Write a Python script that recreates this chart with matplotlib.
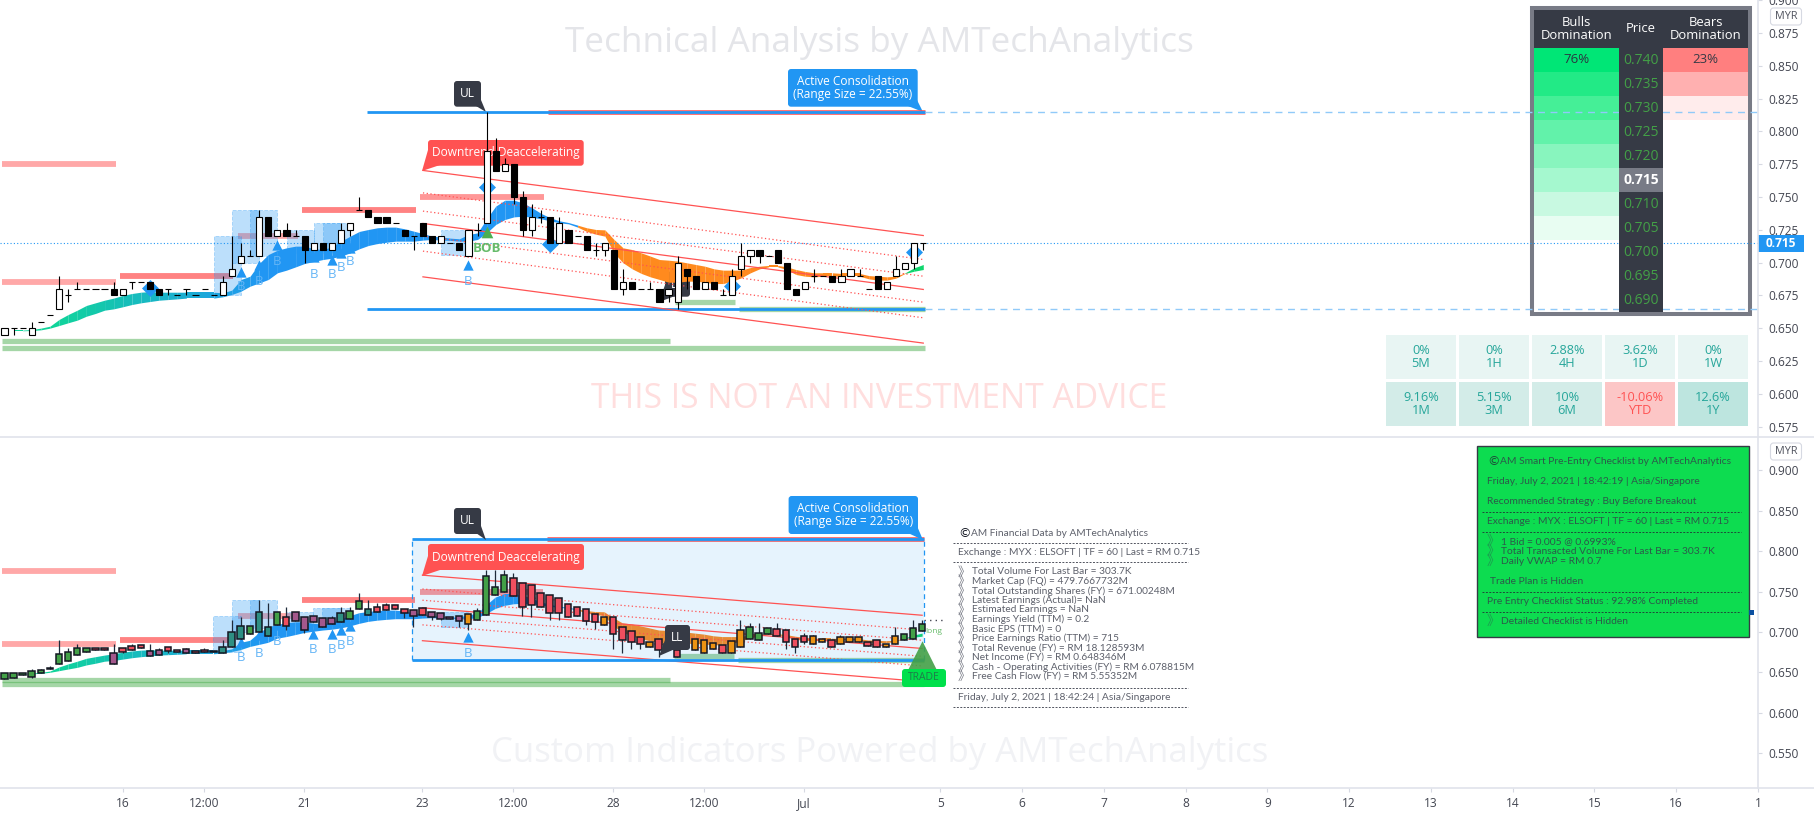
import matplotlib
matplotlib.use('Agg')
import matplotlib.pyplot as plt
from matplotlib.colors import to_rgb
from matplotlib.patches import FancyBboxPatch, Polygon, Rectangle

plt.rcParams['font.family'] = ['Open Sans', 'DejaVu Sans']

# top pane candles, one per bar
bar_open = [.645,.65,.65,.645,.655,.66,.665,.675,.68,.68,
            .68,.68,.68,.675,.685,.685,.685,.68,.68,.675,
            .68,.675,.68,.675,.675,.69,.70,.705,.705,.735,
            .72,.725,.72,.72,.71,.715,.71,.715,.725,.74,
            .74,.735,.735,.73,.725,.72,.73,.72,.715,.715,
            .715,.705,.725,.73,.785,.77,.775,.75,.725,.735,
            .735,.715,.725,.72,.72,.71,.71,.71,.68,.685,
            .68,.68,.68,.675,.67,.695,.69,.68,.685,.675,
            .675,.695,.705,.71,.705,.71,.70,.68,.68,.69,
            .69,.69,.685,.69,.69,.68,.69,.68,.69,.695,
            .70,.715]
bar_close = [.65,.65,.65,.65,.655,.66,.68,.675,.68,.68,
             .68,.68,.675,.68,.685,.685,.68,.675,.68,.675,
             .68,.675,.68,.675,.685,.695,.705,.705,.735,.72,
             .725,.72,.72,.71,.715,.71,.715,.725,.73,.74,
             .735,.73,.73,.73,.72,.72,.72,.715,.72,.715,
             .71,.725,.725,.785,.77,.775,.75,.725,.735,.735,
             .715,.73,.715,.72,.71,.71,.715,.68,.685,.68,
             .68,.68,.67,.68,.70,.69,.68,.685,.68,.675,
             .69,.705,.71,.705,.705,.70,.68,.675,.685,.69,
             .69,.685,.69,.695,.69,.68,.68,.685,.695,.70,
             .715,.715]
bar_high = [.65,.65,.65,.655,.655,.66,.69,.68,.685,.68,
            .68,.68,.685,.68,.685,.685,.685,.68,.68,.675,
            .68,.675,.68,.675,.69,.72,.715,.71,.74,.735,
            .725,.73,.725,.72,.715,.715,.715,.73,.73,.75,
            .74,.735,.735,.73,.725,.72,.73,.72,.72,.715,
            .715,.725,.73,.815,.795,.78,.775,.755,.745,.74,
            .735,.735,.725,.72,.72,.715,.715,.71,.695,.685,
            .68,.685,.68,.68,.705,.695,.69,.685,.685,.68,
            .695,.715,.71,.71,.705,.71,.70,.68,.685,.695,
            .69,.69,.695,.695,.695,.68,.69,.685,.705,.70,
            .715,.715]
bar_low = [.645,.645,.65,.645,.655,.66,.665,.67,.68,.68,
           .68,.68,.675,.675,.68,.685,.68,.675,.675,.675,
           .675,.675,.68,.675,.675,.69,.70,.705,.705,.72,
           .72,.72,.72,.70,.71,.71,.71,.715,.72,.74,
           .735,.73,.73,.73,.72,.71,.72,.715,.715,.715,
           .71,.705,.72,.73,.77,.77,.745,.72,.72,.73,
           .715,.715,.715,.72,.71,.705,.705,.68,.675,.68,
           .68,.68,.67,.67,.665,.68,.68,.68,.68,.675,
           .675,.69,.70,.70,.705,.70,.68,.675,.68,.685,
           .69,.685,.685,.69,.69,.68,.68,.68,.69,.695,
           .695,.71]

# bottom pane candles (smoothed ones)
ha_open = [.6414,.6427,.6463,.6447,.6493,.6542,.66,.6645,.672,.6757,
           .6798,.68,.6744,.68,.6827,.684,.676,.6773,.681,.6773,
           .6785,.676,.6773,.676,.6744,.6818,.691,.697,.7004,.6955,
           .709,.7181,.7243,.7181,.7194,.717,.717,.712,.7157,.728,
           .7206,.7305,.733,.733,.728,.7268,.7293,.7243,.7231,.7181,
           .7194,.7095,.7144,.7205,.7458,.749,.7666,.7603,.7582,.7487,
           .7462,.7416,.735,.7305,.728,.7222,.7085,.7189,.7056,.7006,
           .6932,.6816,.6907,.6816,.6691,.694,.6774,.6745,.6791,.6841,
           .6745,.682,.6907,.6895,.6974,.7035,.7019,.6907,.6944,.6857,
           .6882,.6895,.6857,.687,.6882,.687,.6895,.6808,.6857,.6895,
           .6911,.7006]
ha_close = [.6488,.6488,.6488,.6513,.6525,.6558,.6724,.6757,.68,.68,
            .6773,.6782,.66,.6757,.6773,.6806,.67,.672,.677,.6757,
            .6744,.6744,.6757,.6748,.6818,.70,.708,.708,.7243,.7058,
            .7243,.707,.714,.703,.712,.7058,.71,.723,.7256,.738,
            .728,.7243,.7268,.728,.723,.7194,.7206,.718,.7165,.7157,
            .713,.7219,.7256,.7694,.7562,.771,.7442,.731,.7334,.7305,
            .723,.723,.718,.72,.714,.7127,.7189,.6974,.6903,.6878,
            .6853,.6882,.6778,.6857,.6774,.6816,.6907,.6895,.6866,.6745,
            .689,.7019,.7056,.6982,.7048,.6944,.687,.6808,.6882,.6944,
            .6919,.682,.6932,.6932,.6932,.6832,.6808,.6857,.6944,.6969,
            .7048,.7094]
ha_high = [.6488,.6488,.6488,.654,.654,.658,.69,.68,.685,.68,
           .6798,.68,.685,.68,.6852,.684,.6852,.68,.681,.6773,
           .68,.676,.68,.676,.69,.7149,.719,.708,.7396,.7355,
           .7243,.7314,.7243,.7181,.7194,.717,.7194,.7314,.7314,.7487,
           .7396,.7355,.7355,.733,.728,.7268,.7293,.7243,.7231,.7181,
           .7194,.7219,.7295,.7769,.7769,.7769,.7728,.7603,.7582,.7487,
           .7462,.7416,.735,.7305,.728,.7222,.7189,.7189,.7056,.7006,
           .6932,.6882,.6907,.6857,.6774,.70,.6907,.6895,.6866,.6841,
           .689,.7147,.7106,.7106,.7048,.7106,.7019,.6907,.6982,.6965,
           .6919,.6895,.6965,.6932,.6932,.687,.6895,.6857,.7064,.6969,
           .7147,.7147]
ha_low = [.6414,.6427,.6463,.643,.6493,.6542,.66,.6645,.672,.6757,
          .6773,.6782,.66,.6744,.6773,.6806,.67,.672,.6744,.6757,
          .6744,.6744,.6757,.6748,.6744,.6818,.691,.697,.7004,.6955,
          .709,.7025,.714,.6984,.712,.7058,.71,.712,.7157,.728,
          .7206,.7243,.7268,.728,.7169,.7066,.7206,.7144,.7144,.7157,
          .7066,.7025,.7144,.7205,.7458,.749,.7442,.7197,.7189,.7305,
          .7147,.7147,.718,.72,.7089,.7035,.7085,.6791,.6741,.6791,
          .6791,.6816,.6691,.6816,.669,.6816,.6774,.6745,.6791,.6745,
          .6745,.682,.6907,.6895,.6974,.6944,.6791,.6741,.6857,.6857,
          .6882,.682,.6857,.687,.6882,.6832,.6808,.6808,.6857,.6895,
          .6911,.7006]
ha_kind = ('gggggggggg'
           'rrprrrpprr'
           'prrrtttgtt'
           'grppppptgg'
           'trrrrprppp'
           'poggggrrrr'
           'rrrrrrorrr'
           'rororrooor'
           'oogggrrrro'
           'orooorroog'
           'gg')
ha_colors = {'g': '#43a047', 'r': '#ef4f5f', 'p': '#a4588c', 't': '#2e8f83', 'o': '#ec9313'}

# moving average ribbon
rib_top = [None,.6486,.6486,.6491,.6501,.6516,.6567,.6605,.6638,.6674,
           .6694,.6714,.6730,.6750,.6765,.6775,.678,.6775,.6775,.6775,
           .6775,.6775,.6775,.6775,.677,.6791,.6872,.6897,.6994,.7062,
           .7095,.7113,.7126,.7126,.7106,.71,.7121,.7164,.7202,.7238,
           .7253,.7266,.7271,.7271,.7258,.724,.7222,.7202,.7197,.7187,
           .7182,.7215,.7227,.7334,.7431,.7476,.7476,.7456,.7418,.7375,
           .7342,.7319,.7306,.7286,.7266,.7253,.725,.7177,.7113,.71,
           .7075,.705,.7024,.7019,.7012,.6999,.6986,.6973,.6953,.6943,
           .6943,.6943,.6963,.6973,.6979,.6979,.6968,.6948,.6933,.6923,
           .6923,.6923,.6918,.6918,.6918,.6902,.6897,.6892,.6897,.6923,
           .6961,.6986]
rib_bot = [None,.6481,.6481,.6483,.6488,.6501,.6521,.6542,.6562,.6592,
           .6613,.6638,.6648,.6664,.6681,.6694,.6704,.6714,.6719,.6724,
           .673,.673,.673,.673,.674,.6758,.6783,.6821,.6846,.6872,
           .6923,.6943,.6968,.6994,.7009,.7024,.7034,.705,.7075,.7106,
           .7131,.7146,.7156,.7164,.7164,.7164,.7172,.7177,.7172,.717,
           .7164,.7164,.7177,.7227,.7291,.7329,.7349,.7354,.7347,.7334,
           .7319,.7304,.7296,.7271,.7238,.7217,.7202,.7075,.6999,.6953,
           .6918,.6892,.6872,.6851,.6851,.6859,.6859,.6851,.6841,.6841,
           .6859,.6885,.6923,.6953,.6968,.6968,.6948,.691,.6897,.6892,
           .6897,.6897,.6897,.6897,.6897,.6877,.6867,.6867,.6882,.6918,
           .6935,.6948]

# resistance / support stripes: price, first bar, last bar
res_price = [.775,.685,.69,.72,.74,.75]
res_start = [-0.27,-0.27,12.7,25.7,32.7,45.7]
res_end = [12.26,12.26,25.1,32.3,45.2,59.3]
res_alpha = [.5,.5,.72,.5,.72,.6]

# channel, first bar 46 and last bar 101
chan_bars = [46,101]
chan_solid = [[.7703,.7207],[.7299,.6796],[.6892,.6387]]
chan_dotted = [[.7532,.7024],[.7393,.6897],[.7202,.6699],[.7088,.658]]

# consolidation boxes: bar from, bar to, price low, price high
box_from = [23,25,27,31,34,35,48]
box_to = [26,28,30,34,37,38,51]
box_low = [.675,.70,.705,.7075,.708,.7075,.7057]
box_high = [.72,.74,.74,.725,.73,.73,.725]

buy_bars = [26,28,30,34,36,37,38,51]
buy_tri_top = [.693,.6979,.7134,.7045,.7024,.7075,.711,.6984]
buy_txt_top = [.6821,.6859,.7007,.691,.691,.6961,.7012,.6859]
buy_tri_bot = [.688,.6963,.7087,.6971,.6971,.7025,.7074,.6934]
buy_txt_bot = [.6686,.6736,.688,.6785,.6785,.6835,.688,.6736]

diamond_bars = [16,53,60,80,100]
diamond_price = [.6806,.7578,.7144,.6826,.708]

range_high = .815
range_low = .665
last_price = .715

top_ticks = [.575,.6,.625,.65,.675,.7,.725,.75,.775,.8,.825,.85,.875,.9]
bot_ticks = [.55,.6,.65,.7,.75,.8,.85,.9]
time_pos = [13,22,33,46,56,67,77,88,103,112,121,130,139,148,157,166,175,184,193]
time_lab = ['16','12:00','21','23','12:00','28','12:00','Jul','5','6','7','8','9','12','13','14','15','16','1']

# order book table
book_price = ['0.740','0.735','0.730','0.725','0.720','0.715','0.710','0.705','0.700','0.695','0.690']
bull_cols = ['#00e676','#22ea86','#45ef97','#62f2aa','#88f5be','#a5f8cf','#c8f9e1','#e8fdf2']
bear_cols = ['#ff7f7f','#ffb0b0','#ffecec']

# performance table
perf_top = [('0%','5M'),('0%','1H'),('2.88%','4H'),('3.62%','1D'),('0%','1W')]
perf_bot = [('9.16%','1M'),('5.15%','3M'),('10%','6M'),('-10.06%','YTD'),('12.6%','1Y')]
perf_bot_bg = ['#d3ece8','#d3ece8','#d3ece8','#fcc6c6','#bde5df']

fin_lines = ['Total Volume For Last Bar = 303.7K',
             'Market Cap (FQ) = 479.7667732M',
             'Total Outstanding Shares (FY) = 671.00248M',
             'Latest Earnings (Actual)= NaN',
             'Estimated Earnings = NaN',
             'Earnings Yield (TTM) = 0.2',
             'Basic EPS (TTM) = 0',
             'Price Earnings Ratio (TTM) = 715',
             'Total Revenue (FY) = RM 18.128593M',
             'Net Income (FY) = RM 0.648346M',
             'Cash - Operating Activities (FY) = RM 6.078815M',
             'Free Cash Flow (FY) = RM 5.55352M']

W, H = 1814, 816
fig = plt.figure(figsize=(W/100, H/100), dpi=100, facecolor='white')

# bg and fg are plain pixel layers below and above the two chart panes
def layer(z):
    a = fig.add_axes([0,0,1,1], zorder=z)
    a.set_xlim(0,W); a.set_ylim(H,0); a.axis('off')
    return a
bg = layer(0)
fg = layer(3)

top = fig.add_axes([0,1-436/H,1758/W,436/H], zorder=1)
bot = fig.add_axes([0,1-788/H,1758/W,351/H], zorder=2)
for a in (top,bot):
    a.patch.set_visible(False)
    for s in a.spines.values():
        s.set_visible(False)
    a.set_xlim(-0.495,192.76)
    a.yaxis.tick_right()
    a.tick_params(axis='y', length=3, color='#d6d9e2', labelcolor='#434651', labelsize=8.6, pad=4.5)
top.set_ylim(.5679,.9002)
bot.set_ylim(.5069,.9413)
top.set_yticks(top_ticks); top.set_yticklabels(['%.3f' % t for t in top_ticks])
bot.set_yticks(bot_ticks); bot.set_yticklabels(['%.3f' % t for t in bot_ticks])
top.set_xticks([])
bot.set_xticks(time_pos); bot.set_xticklabels(time_lab)
bot.tick_params(axis='x', length=3, color='#d6d9e2', labelcolor='#434651', labelsize=8.6, pad=11)
for t in bot.get_xticklabels():
    t.set_verticalalignment('baseline')

def ribbon_color(i):
    if i < 28:
        t = max(0,i-5)/23
        a, b = to_rgb('#10d49a'), to_rgb('#2196f3')
        return tuple(a[k]+(b[k]-a[k])*t for k in range(3))
    if i < 63:
        return '#2196f3'
    if i < 99:
        return '#ff8a1e'
    return '#0fd66e'

def common(a, tri, txt):
    for p,s,e,al in zip(res_price,res_start,res_end,res_alpha):
        a.plot([s,e],[p,p],color='#ff5252',alpha=al,lw=4.2,solid_capstyle='butt',zorder=2)
    for p,s,e in [(.64,-0.27,73.2),(.635,-0.27,101.2),(.67,73.7,80.3),(range_low,80.7,101.2)]:
        a.plot([s,e],[p,p],color='#4caf50',alpha=.5,lw=3.8,solid_capstyle='butt',zorder=2)
    a.plot([59.7,101.2],[range_high,range_high],color='#ff5252',alpha=.8,lw=3.6,solid_capstyle='butt',zorder=2)
    for l,h,x0,x1 in zip(box_low,box_high,box_from,box_to):
        a.add_patch(Rectangle((x0,l),x1-x0,h-l,fc='#2196f3',alpha=.3,ec='#2196f3',ls='--',lw=.7,zorder=2))
    for i in range(1,len(rib_top)-1):
        a.fill_between([i,i+1],[rib_top[i],rib_top[i+1]],[rib_bot[i],rib_bot[i+1]],
                       color=ribbon_color(i),lw=0,zorder=3)
    for s in chan_solid:
        a.plot(chan_bars,s,color='#ff5252',lw=.9,zorder=4)
    for s in chan_dotted:
        a.plot(chan_bars,s,color='#ff5252',lw=.9,ls=(0,(1,2)),zorder=4)
    a.scatter(buy_bars,tri,marker='^',s=55,color='#2196f3',lw=0,zorder=4)
    for b,p in zip(buy_bars,txt):
        a.text(b,p,'B',color='#64b5f6',fontsize=9.5,ha='center',va='center',zorder=4)

common(top,buy_tri_top,buy_txt_top)
common(bot,buy_tri_bot,buy_txt_bot)

# top pane extras
top.plot([39.9,101.2],[range_high,range_high],color='#2196f3',lw=2,solid_capstyle='butt',zorder=3)
top.plot([39.9,101.2],[range_low,range_low],color='#2196f3',lw=2,solid_capstyle='butt',zorder=3)
top.plot([101.2,192.76],[range_high,range_high],color='#90caf9',lw=1,ls=(0,(5,4)),zorder=3)
top.plot([101.2,192.76],[range_low,range_low],color='#90caf9',lw=1,ls=(0,(5,4)),zorder=3)
top.plot([-0.5,192.76],[last_price,last_price],color='#2196f3',lw=.8,ls=(0,(1,2)),zorder=3)
top.scatter(diamond_bars,diamond_price,marker='D',s=75,color='#2196f3',lw=0,zorder=4)
top.scatter([53],[.7233],marker='^',s=70,color='#4caf50',lw=0,zorder=4)
top.text(53,.711,'BOB',color='#66bb6a',fontsize=9.5,fontweight='bold',ha='center',va='center',zorder=4)

# top candles, hollow up / filled down
for i in range(len(bar_open)):
    o,c = bar_open[i],bar_close[i]
    top.vlines(i,bar_low[i],bar_high[i],color='black',lw=.8,zorder=5)
    top.bar(i,abs(c-o),bottom=min(o,c),width=.68,color='white' if c>o else 'black',
            edgecolor='black',lw=.8,zorder=6)

# bottom pane extras
bot.add_patch(Rectangle((44.9,range_low),56.3,range_high-range_low,fc='#2196f3',alpha=.11,lw=0,zorder=3.5))
bot.plot([44.9,101.2],[range_high,range_high],color='#2196f3',lw=2,solid_capstyle='butt',zorder=4)
bot.plot([44.9,101.2],[range_low,range_low],color='#2196f3',lw=2,solid_capstyle='butt',zorder=4)
bot.vlines([44.9,101.2],range_low,range_high,color='#2196f3',lw=.9,ls=(0,(4,3)),zorder=4)
bot.plot([101.2,103.5],[last_price,last_price],color='#434651',lw=1,ls=(0,(1,3)),zorder=4)
for i in range(len(ha_open)):
    o,c = ha_open[i],ha_close[i]
    bot.vlines(i,ha_low[i],ha_high[i],color='#1e2a3a',lw=.9,zorder=5)
    bot.bar(i,abs(c-o),bottom=min(o,c),width=.72,color=ha_colors[ha_kind[i]],
            edgecolor='#131722',lw=1.1,zorder=6)
bot.scatter([101],[.67],marker='^',s=480,color='#43a047',alpha=.9,lw=0,zorder=7)
bot.text(102.3,.7,'long',color='#66bb6a',fontsize=6,ha='center',va='center',zorder=7)

def label(a, x0, y0, x1, y1, tip, base, col, txt, fs=8.6, tc='white', z=5):
    a.add_patch(Polygon([tip]+base,fc=col,lw=0,zorder=z))
    a.add_patch(FancyBboxPatch((x0,y0),x1-x0,y1-y0,boxstyle='round,pad=0,rounding_size=3',
                               fc=col,lw=0,zorder=z))
    a.text((x0+x1)/2,(y0+y1)/2,txt,color=tc,fontsize=fs,ha='center',va='center',linespacing=1.05,zorder=z+1)

act = 'Active Consolidation\n(Range Size = 22.55%)'
dwn = 'Downtrend Deaccelerating'
dark = '#363a45'
label(bg,454,81,481,106.7,(486,112),[(476,106),(481,100)],dark,'UL')
label(bg,788,69,917.7,106.7,(923,112),[(908,106),(917,100)],'#2196f3',act)
label(bg,428,140,583.7,165.7,(422,171),[(428,150),(440,165)],'#ff5252',dwn)
label(bg,665,271.7,690,296.7,(659,302),[(665,285),(675,296)],dark,'LL')
label(fg,454,508,481,534,(486,540),[(476,533),(481,526)],dark,'UL')
label(fg,788.6,496,918,534,(923,540),[(908,533),(917,526)],'#2196f3',act)
label(fg,428,544,584,570,(422,576),[(428,556),(440,570)],'#ff5252',dwn)
label(fg,665,625,690,650,(659,656),[(665,640),(675,649)],dark,'LL')
label(fg,902,669,946,687,(924,669),[(920,670),(928,670)],'#00e04b','TRADE',fs=7.5,tc='#1f7a4a')

# watermarks
bg.text(879,42.5,'Technical Analysis by AMTechAnalytics',color='#e4e5e9',fontsize=25.3,ha='center',va='center')
bg.text(879,398.5,'THIS IS NOT AN INVESTMENT ADVICE',color='#ffdede',fontsize=24.2,ha='center',va='center')
bg.text(880,752.5,'Custom Indicators Powered by AMTechAnalytics',color='#f1f2f5',fontsize=25,ha='center',va='center')

# order book table
bg.add_patch(Rectangle((1530,6),222,310,fc='white',ec='none'))
bg.add_patch(Rectangle((1532,8),218,306,fc='none',ec='#787b86',lw=2.9))
fg.add_patch(Rectangle((1534,10),214,38,fc=dark,lw=0))
fg.text(1576.5,29,'Bulls\nDomination',color='white',fontsize=9.4,ha='center',va='center',linespacing=1.05)
fg.text(1641,29,'Price',color='white',fontsize=9.4,ha='center',va='center')
fg.text(1705.5,29,'Bears\nDomination',color='white',fontsize=9.4,ha='center',va='center',linespacing=1.05)
for r,p in enumerate(book_price):
    y = 48+24*r
    if r < len(bull_cols):
        bg.add_patch(Rectangle((1534,y),85,24,fc=bull_cols[r],lw=0))
    if r < len(bear_cols):
        bg.add_patch(Rectangle((1663,y),85,24,fc=bear_cols[r],lw=0))
    cur = p == '0.715'
    fg.add_patch(Rectangle((1619,y),44,24,fc='#787b86' if cur else dark,lw=0))
    fg.text(1641,y+12,p,color='white' if cur else '#43a047',fontsize=10,ha='center',va='center',
            fontweight='bold' if cur else 'normal')
fg.text(1576.5,59.5,'76%',color='#2b3540',fontsize=9.5,ha='center',va='center')
fg.text(1705.5,59.5,'23%',color='#363a45',fontsize=9.5,ha='center',va='center')

# performance table
for c in range(5):
    x = 1386+73*c
    bg.add_patch(Rectangle((x,335),70,44,fc='#e8f5f3',lw=0))
    bg.text(x+35,357,perf_top[c][0]+'\n'+perf_top[c][1],color='#26a69a',fontsize=9.2,ha='center',va='center',linespacing=1.05)
    bg.add_patch(Rectangle((x,382),70,44,fc=perf_bot_bg[c],lw=0))
    bg.text(x+35,404,perf_bot[c][0]+'\n'+perf_bot[c][1],color='#ff5252' if c==3 else '#26a69a',
            fontsize=9.2,ha='center',va='center',linespacing=1.05)

# financial data block
cjk = ['Noto Sans CJK SC','DejaVu Sans']
small = ['Lato','DejaVu Sans']
ink = '#5d606b'
def dash(a, y, x0, x1, col='#50535e'):
    a.plot([x0,x1],[y,y],color=col,lw=.7,ls=(0,(2,1.5)))
dash(fg,543.3,953,1188); dash(fg,562.3,953,1188); dash(fg,687.7,953,1188); dash(fg,706.7,953,1188)
fg.text(958,533.7,'©',color='#131722',fontsize=9,va='center',family='DejaVu Sans')
fg.text(971,533.7,'AM Financial Data by AMTechAnalytics',color=ink,fontsize=7.3,va='center',family=small)
fg.text(958,552.7,'Exchange : MYX : ELSOFT | TF = 60 | Last = RM 0.715',color=ink,fontsize=7.4,va='center',family=small)
for n,t in enumerate(fin_lines):
    y = 572+9.5*n
    fg.text(958,y,'》',color='#787b86',fontsize=9,va='center',family=cjk)
    fg.text(971.7,y,t,color=ink,fontsize=7.3,va='center',family=small)
fg.text(958,697,'Friday, July 2, 2021 | 18:42:24 | Asia/Singapore',color=ink,fontsize=7.4,va='center',family=small)

# checklist block
green_ink = '#2c5a4a'
fg.add_patch(Rectangle((1477.3,446),271.4,190.7,fc='#0ddc50',ec=dark,lw=1))
fg.text(1487,461.7,'©',color='#1f4a3a',fontsize=9,va='center',family='DejaVu Sans')
for x,y,t in [(1500,461.7,'AM Smart Pre-Entry Checklist by AMTechAnalytics'),
              (1487,481.7,'Friday, July 2, 2021 | 18:42:19 | Asia/Singapore'),
              (1487,501.7,'Recommended Strategy : Buy Before Breakout'),
              (1487,521.7,'Exchange : MYX : ELSOFT | TF = 60 | Last = RM 0.715'),
              (1501,541.7,'1 Bid = 0.005 @ 0.6993%'),
              (1501,551.7,'Total Transacted Volume For Last Bar = 303.7K'),
              (1501,561.7,'Daily VWAP = RM 0.7'),
              (1490,581.7,'Trade Plan is Hidden'),
              (1487,601.7,'Pre Entry Checklist Status : 92.98% Completed'),
              (1501,621.7,'Detailed Checklist is Hidden')]:
    fg.text(x,y,t,color=green_ink,fontsize=7.4,va='center',family=small)
for y in [541.7,551.7,561.7,621.7]:
    fg.text(1487,y,'》',color='#1f9a50',fontsize=9.5,va='center',family=cjk)
for y in [512.3,532.3,592.3,612.3]:
    dash(fg,y,1482,1741,'#1f4a3a')
fg.add_patch(Rectangle((1748.5,610),5,5,fc='#0b4fa0',lw=0))

# frame of the panes and price tags
for y in (436.5,788):
    fg.plot([0,W],[y,y],color='#e0e3eb',lw=1.2)
fg.plot([1758,1758],[0,788],color='#e0e3eb',lw=1.2)
fg.add_patch(Rectangle((1758,235),46,16.7,fc='#2196f3',lw=0))
fg.text(1781,243.5,'0.715',color='white',fontsize=8.6,fontweight='bold',ha='center',va='center')
for y0 in (8,443):
    fg.add_patch(FancyBboxPatch((1770.5,y0),31,17,boxstyle='round,pad=0,rounding_size=3',
                                fc='white',ec='#d6d9e2',lw=.8))
    fg.text(1786,y0+8.5,'MYR',color='#50535e',fontsize=7.8,ha='center',va='center')

plt.savefig('out.png', dpi=100)
